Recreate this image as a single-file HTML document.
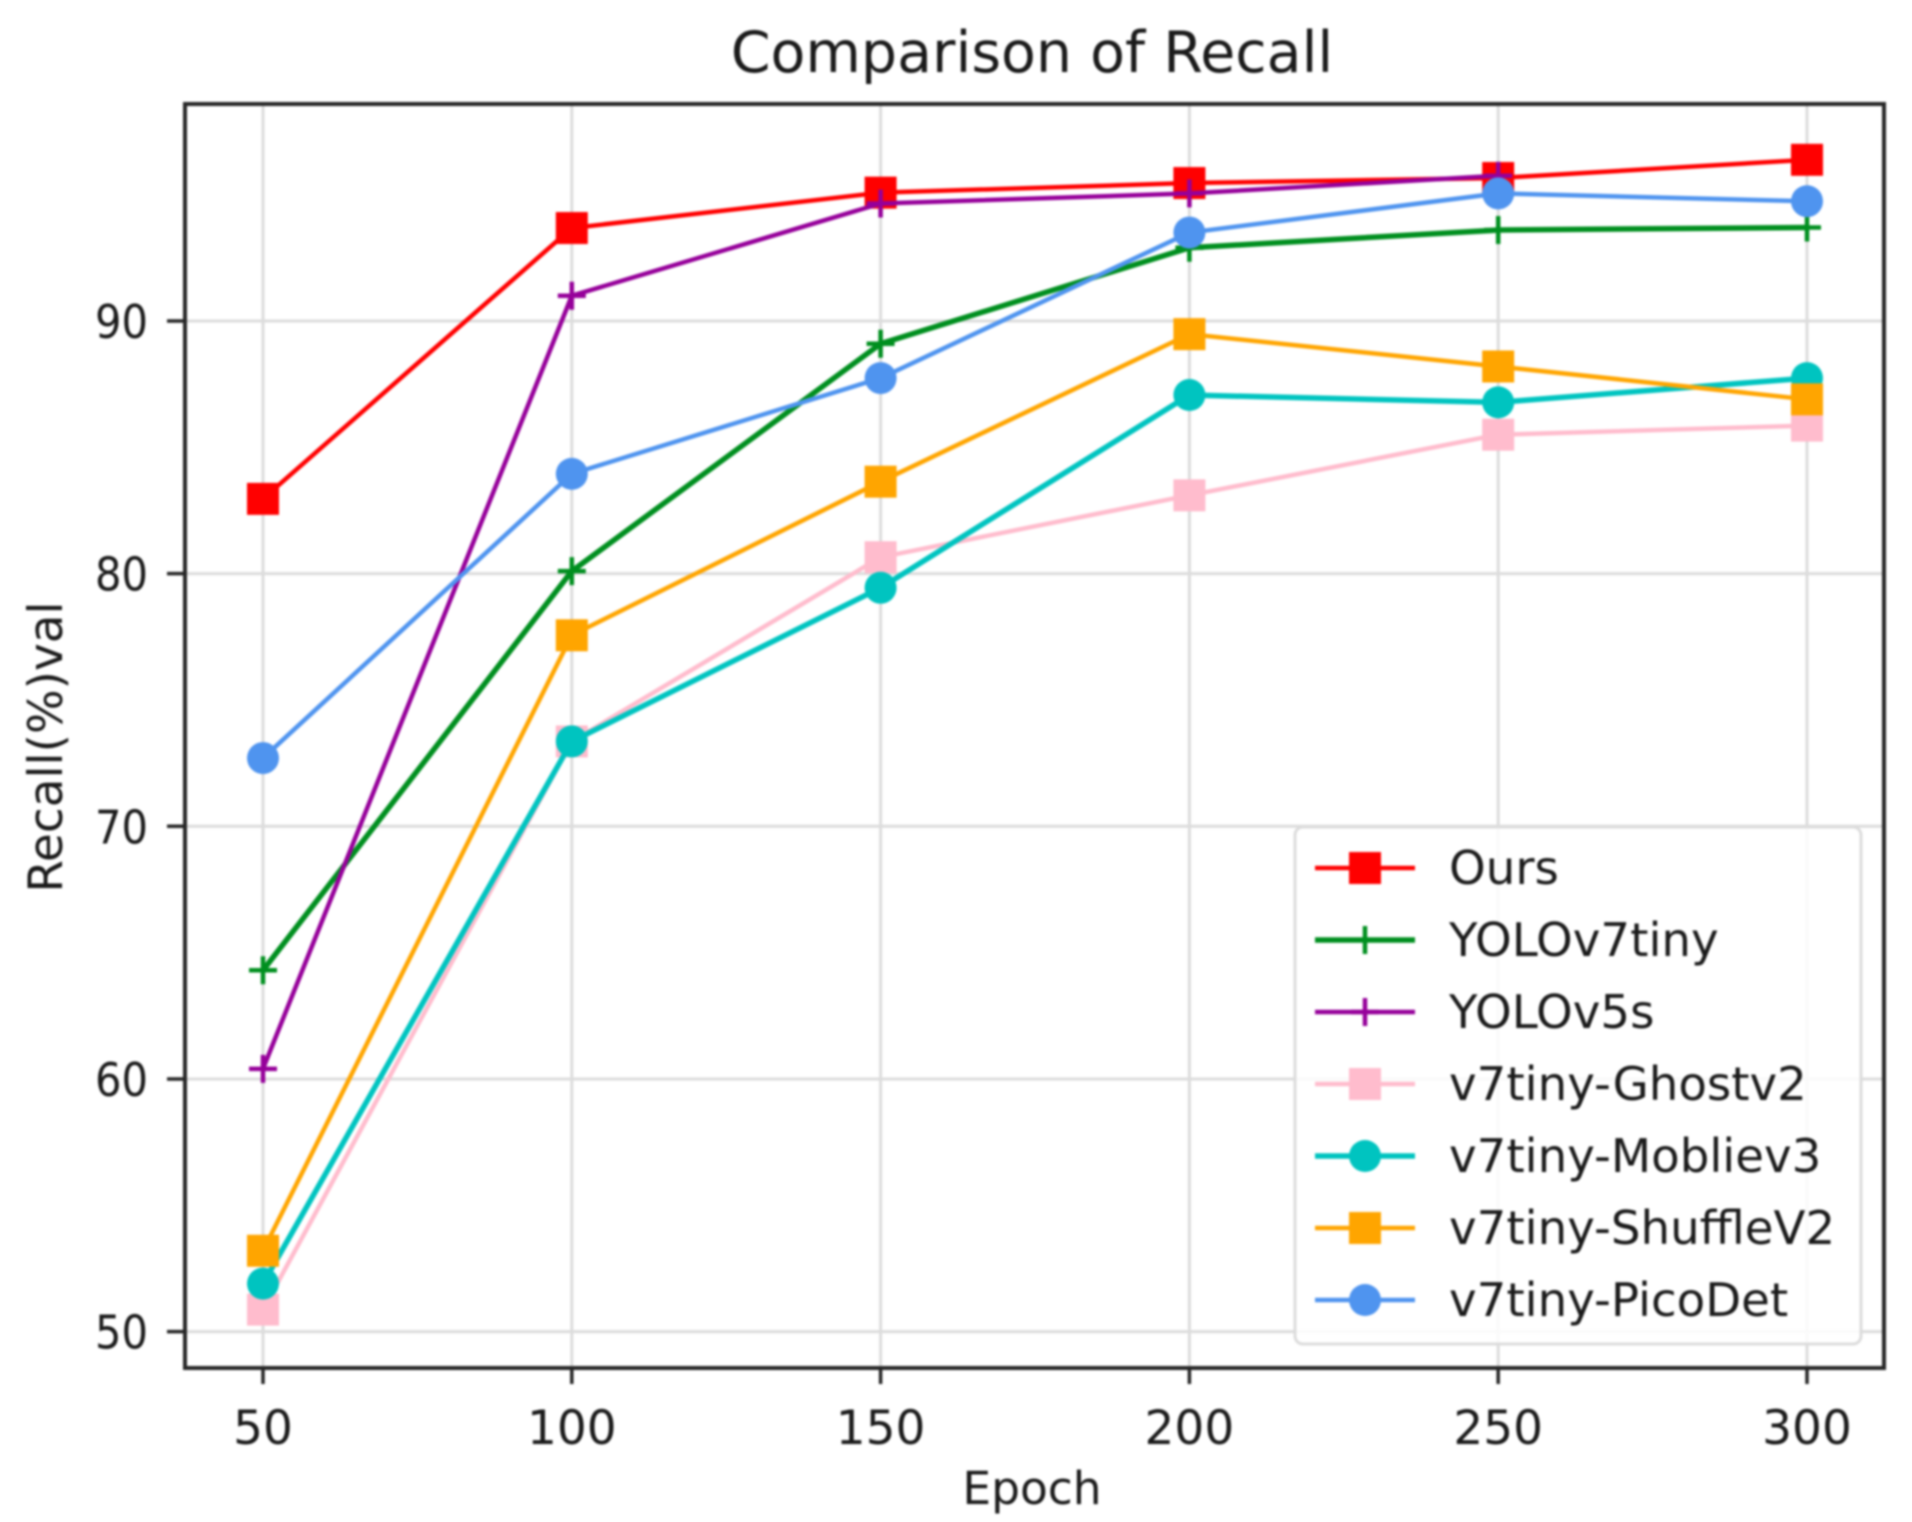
<!DOCTYPE html>
<html>
<head>
<meta charset="utf-8">
<title>Comparison of Recall</title>
<style>
html,body{margin:0;padding:0;background:#fff;width:1912px;height:1522px;overflow:hidden}
svg{display:block}
text{font-family:"DejaVu Sans","Liberation Sans",sans-serif;fill:#1a1a1a}
</style>
</head>
<body>
<svg id="chart" xmlns="http://www.w3.org/2000/svg" width="1912" height="1522" viewBox="0 0 1912 1522">
  <g id="root" style="filter:blur(1.1px)">
    <text x="1032" y="72" font-size="57" text-anchor="middle">Comparison of Recall</text>
    <text x="1032" y="1504" font-size="45.5" text-anchor="middle">Epoch</text>
    <text transform="translate(62 747) rotate(-90)" font-size="47" text-anchor="middle">Recall(%)val</text>
    <g id="grid"></g>
    <g id="series"></g>
    <g id="legend"></g>
    <rect x="185" y="104" width="1699" height="1264" fill="none" stroke="#262626" stroke-width="4"></rect>
    <g id="ticks"></g>
  </g>
</svg>
<script>
const epochs = [50, 100, 150, 200, 250, 300];
const xTicks = [50, 100, 150, 200, 250, 300];
const yTicks = [50, 60, 70, 80, 90];
const seriesNames = ["Ours", "YOLOv7tiny", "YOLOv5s", "v7tiny-Ghostv2", "v7tiny-Mobliev3", "v7tiny-ShuffleV2", "v7tiny-PicoDet"];
const ours = [82.96, 93.68, 95.08, 95.46, 95.66, 96.38];
const yolov7tiny = [64.3, 80.1, 89.1, 92.9, 93.6, 93.7];
const yolov5s = [60.4, 91.0, 94.65, 95.05, 95.75];
const ghostv2 = [50.87, 73.36, 80.65, 83.1, 85.5, 85.86];
const mobilev3 = [51.9, 73.36, 79.44, 87.07, 86.78, 87.74];
const shufflev2 = [53.2, 77.56, 83.64, 89.48, 88.2, 86.9];
const picodet = [72.7, 83.95, 87.74, 93.5, 95.05, 94.74];
const seriesValues = [ours, yolov7tiny, yolov5s, ghostv2, mobilev3, shufflev2, picodet];
const seriesColors = ["#ff0000", "#008f1f", "#96009a", "#ffbccd", "#00c4c0", "#ffa500", "#4f94ef"];
const seriesMarkers = ["square", "plus", "plus", "square", "circle", "square", "circle"];
const seriesWidths = [4.5, 5.5, 4.5, 4.5, 5.5, 4.5, 4.5];

const NS = "http://www.w3.org/2000/svg";
const X0 = 263, X1 = 1807, Y0 = 1331.6, Y1 = 321;
function xScale(v) { return X0 + (v - 50) * (X1 - X0) / 250; }
function yScale(v) { return Y0 - (v - 50) * (Y0 - Y1) / 40; }
function make(tag, attrs, parent) {
  const el = document.createElementNS(NS, tag);
  for (const k in attrs) el.setAttribute(k, attrs[k]);
  parent.appendChild(el);
  return el;
}
function drawMarker(kind, cx, cy, color, parent) {
  if (kind === "square") {
    return make("rect", { x: cx - 16, y: cy - 16, width: 32, height: 32, fill: color }, parent);
  }
  if (kind === "circle") {
    return make("circle", { cx: cx, cy: cy, r: 16, fill: color }, parent);
  }
  return make("path", { d: "M" + (cx - 14) + " " + cy + "H" + (cx + 14) + "M" + cx + " " + (cy - 14) + "V" + (cy + 14), fill: "none", stroke: color, "stroke-width": 4.5 }, parent);
}

const grid = document.getElementById("grid");
const ticks = document.getElementById("ticks");
xTicks.forEach(function (t) {
  const x = xScale(t);
  const g = make("line", { x1: x, x2: x, y1: 104, y2: 1368, stroke: "#dcdcdc", "stroke-width": 3 }, grid);
  
  
  const m = make("line", { x1: x, x2: x, y1: 1368, y2: 1384, stroke: "#262626", "stroke-width": 3.5 }, ticks);
  
  
  const l = make("text", { x: x, y: 1444, "font-size": 47, "text-anchor": "middle" }, ticks);
  l.textContent = t;
  
  
});
yTicks.forEach(function (t) {
  const y = yScale(t);
  const g = make("line", { x1: 185, x2: 1884, y1: y, y2: y, stroke: "#dcdcdc", "stroke-width": 3 }, grid);
  
  
  const m = make("line", { x1: 167, x2: 185, y1: y, y2: y, stroke: "#262626", "stroke-width": 3.5 }, ticks);
  
  
  const l = make("text", { x: 148, y: y + 17, "font-size": 46, "text-anchor": "end", textLength: 53, lengthAdjust: "spacingAndGlyphs" }, ticks);
  l.textContent = t;
  
  
});

const seriesGroup = document.getElementById("series");
seriesValues.forEach(function (vals, i) {
  const g = make("g", {}, seriesGroup);
  
  
  const pts = vals.map(function (v, j) { return xScale(epochs[j]) + "," + yScale(v); }).join(" ");
  make("polyline", { points: pts, fill: "none", stroke: seriesColors[i], "stroke-width": seriesWidths[i] }, g);
  vals.forEach(function (v, j) {
    const mk = drawMarker(seriesMarkers[i], xScale(epochs[j]), yScale(v), seriesColors[i], g);
    
    
  });
});

const legend = document.getElementById("legend");
const box = make("rect", { x: 1295, y: 827, width: 566, height: 517, rx: 8, fill: "#ffffff", "fill-opacity": 0.85, stroke: "#dcdcdc", "stroke-width": 3 }, legend);


seriesNames.forEach(function (name, i) {
  const y = 868 + i * 72;
  const e = make("g", {}, legend);
  
  
  make("line", { x1: 1315, x2: 1415, y1: y, y2: y, stroke: seriesColors[i], "stroke-width": seriesWidths[i] }, e);
  drawMarker(seriesMarkers[i], 1365, y, seriesColors[i], e);
  const t = make("text", { x: 1449, y: y + 16, "font-size": 46.7 }, e);
  t.textContent = name;
});
</script>
</body>
</html>
